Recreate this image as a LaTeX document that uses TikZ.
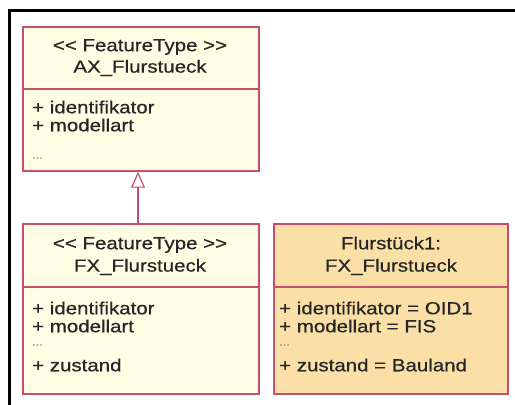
\documentclass[tikz,border=0pt]{standalone}
\usepackage{fontspec}
\setmainfont{Liberation Sans}[FakeStretch=1.17, FakeBold=0.6]
\usetikzlibrary{arrows.meta,calc}
\definecolor{bordercol}{HTML}{C4506C}
\definecolor{lightfill}{HTML}{FFFDE4}
\definecolor{objfill}{HTML}{FAE0A6}
\definecolor{txtcol}{HTML}{262626}
\tikzset{
  classbox/.style={draw=bordercol, line width=1.4pt, inner sep=0pt, minimum width=236pt},
  hdr/.style={text=txtcol, font=\fontsize{17.5}{20}\selectfont, anchor=center, inner sep=0pt},
  attr/.style={text=txtcol, font=\fontsize{17.5}{20}\selectfont, anchor=west, inner sep=0pt},
  dots/.style={text=txtcol!55, font=\fontsize{11}{12}\selectfont, anchor=west, inner sep=0pt},
  divider/.style={draw=bordercol, line width=1.2pt},
  frameline/.style={draw=black, line width=3pt},
}
\begin{document}
\begin{tikzpicture}[x=1pt,y=-1pt]
\useasboundingbox[fill=white] (0,0) rectangle (515,405);
% frame
\coordinate (f2) at (515,10);
\coordinate (f3) at (9.5,405);
\draw[frameline] (f3) |- (f2);
% boxes
\node[classbox, fill=lightfill, minimum height=144pt] (ax) at (141,99) {};
\node[classbox, fill=lightfill, minimum height=170pt] (fx) at (141,309) {};
\node[classbox, fill=objfill, minimum width=234pt, minimum height=170pt] (obj) at (391,309) {};
% dividers
\draw[divider] (ax.west |- 0,89) -- (ax.east |- 0,89);
\draw[divider] (fx.west |- 0,287) -- (fx.east |- 0,287);
\draw[divider] (obj.west |- 0,287) -- (obj.east |- 0,287);
% AX texts
\node[hdr] (ax1) at (140,47) {{<}{<} FeatureType {>}{>}};
\node[hdr] (ax2) at (140,68) {AX\_Flurstueck};
\node[attr] (ax3) at (32,107) {+ identifikator};
\node[attr] (ax4) at (32,125) {+ modellart};
\node[dots] (ax5) at (32,158) {...};
% FX texts
\node[hdr] (fx1) at (140,245) {{<}{<} FeatureType {>}{>}};
\node[hdr] (fx2) at (140,267) {FX\_Flurstueck};
\node[attr] (fx3) at (32,308) {+ identifikator};
\node[attr] (fx4) at (32,326) {+ modellart};
\node[dots] (fx5) at (32,345) {...};
\node[attr] (fx6) at (32,365) {+ zustand};
% object texts
\node[hdr] (ob1) at (391,243) {Flurstück1:};
\node[hdr] (ob2) at (391,267) {FX\_Flurstueck};
\node[attr] (ob3) at (279,308) {+ identifikator = OID1};
\node[attr] (ob4) at (279,326) {+ modellart = FIS};
\node[dots] (ob5) at (279,345) {...};
\node[attr] (ob6) at (279,365) {+ zustand = Bauland};
% generalization
\draw[draw=bordercol, line width=1.4pt, -{Triangle[open, length=16pt, width=14pt, line width=1.2pt]}]
  ($(fx.north)+(-3,0)$) -- ($(ax.south)+(-3,0)$);
\end{tikzpicture}
\end{document}
